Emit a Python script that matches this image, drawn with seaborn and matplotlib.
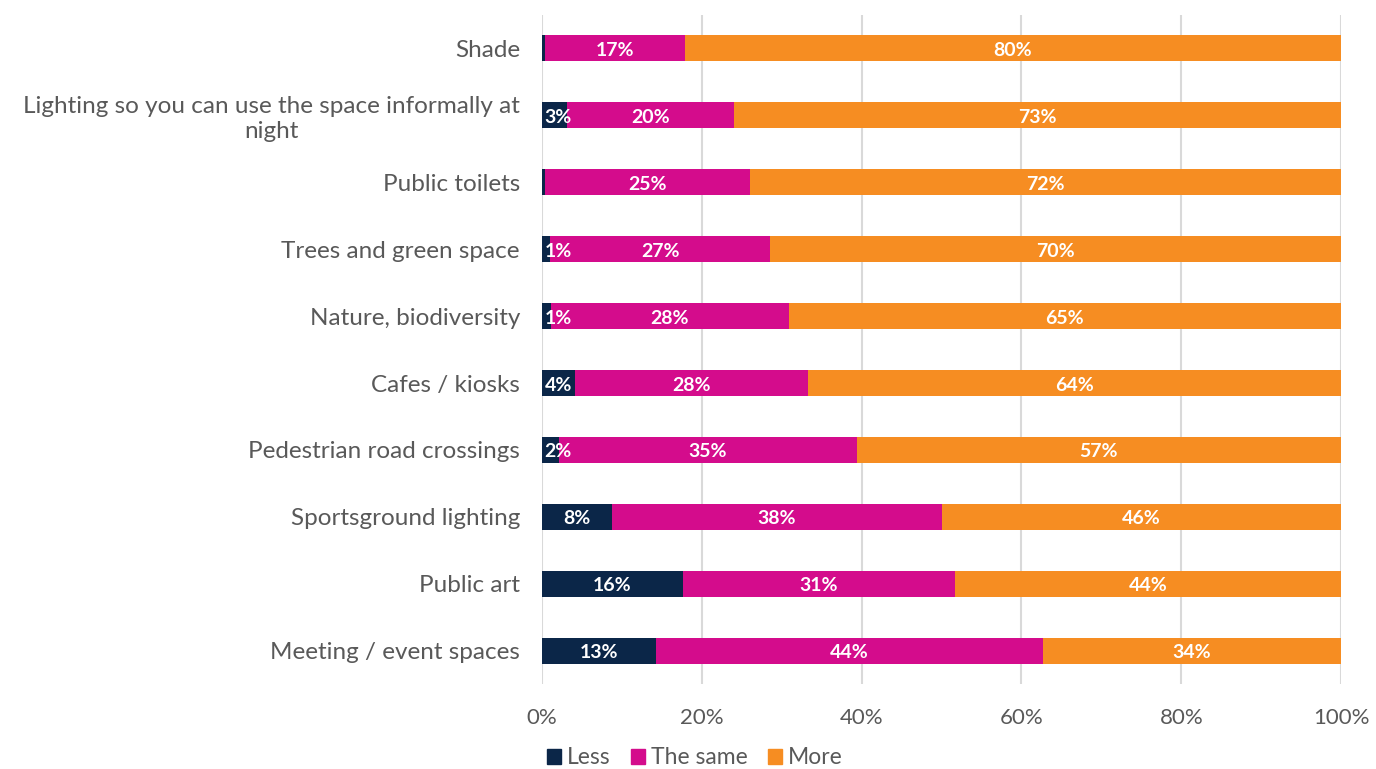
import matplotlib
matplotlib.use("Agg")
import matplotlib.pyplot as plt
import numpy as np
import pandas as pd
import seaborn as sns

# Survey responses: share wanting less / the same / more of each feature
categories = [
    "Shade",
    "Lighting so you can use the space informally at\nnight",
    "Public toilets",
    "Trees and green space",
    "Nature, biodiversity",
    "Cafes / kiosks",
    "Pedestrian road crossings",
    "Sportsground lighting",
    "Public art",
    "Meeting / event spaces",
]
less = [0.4, 3, 0.4, 1, 1, 4, 2, 8, 16, 13]
same = [17, 20, 25, 27, 28, 28, 35, 38, 31, 44]
more = [80, 73, 72, 70, 65, 64, 57, 46, 44, 34]
series_names = ["Less", "The same", "More"]
colors = ["#0B2648", "#D40C8C", "#F68D22"]
x_ticks = [0, 20, 40, 60, 80, 100]

sns.set_theme(style="white")
plt.rcParams["font.family"] = ["Lato", "DejaVu Sans"]

df = pd.DataFrame({"category": categories, "less": less, "same": same, "more": more})
total = df[["less", "same", "more"]].sum(axis=1)
# 100% stacked: normalise each row to its total
df["less_n"] = df["less"] / total * 100
df["same_n"] = df["same"] / total * 100
df["more_n"] = df["more"] / total * 100
df["cum_less"] = df["less_n"]
df["cum_same"] = df["less_n"] + df["same_n"]
df["cum_more"] = df["cum_same"] + df["more_n"]

fig = plt.figure(figsize=(13.76, 7.69), dpi=100)
ax = fig.add_axes([0.394, 0.110, 0.5806, 0.871])

# Draw cumulative layers from the longest to the shortest
for col, c in zip(["cum_more", "cum_same", "cum_less"], colors[::-1]):
    sns.barplot(data=df, x=col, y="category", orient="h", color=c,
                width=0.4, ax=ax, saturation=1, linewidth=0, zorder=3)

# Segment labels (kept inside the plot area when a segment is very thin)
min_center = 2.0
for i, row in df.iterrows():
    starts = [0, row["cum_less"], row["cum_same"]]
    widths = [row["less_n"], row["same_n"], row["more_n"]]
    raw = [row["less"], row["same"], row["more"]]
    for s, w, r in zip(starts, widths, raw):
        if r < 0.5:
            continue
        cx = max(s + w / 2, min_center)
        ax.text(cx, i + 0.03, f"{r:.0f}%", ha="center", va="center",
                color="white", fontsize=14, fontweight="bold", zorder=5)

ax.set_xlim(0, 100)
ax.set_ylim(len(categories) - 0.5, -0.5)
ax.set_xticks(x_ticks)
ax.set_xticklabels([f"{t}%" for t in x_ticks], fontsize=16, color="#595959")
ax.tick_params(axis="x", length=0, pad=17)
ax.tick_params(axis="y", length=0, pad=16, labelsize=17.5, labelcolor="#595959")
for lbl in ax.get_yticklabels():
    lbl.set_multialignment("center")
    lbl.set_linespacing(1.25)
ax.set_xlabel("")
ax.set_ylabel("")
ax.xaxis.grid(True, color="#D9D9D9", linewidth=1.5, zorder=0)
ax.set_axisbelow(True)
for sp in ax.spines.values():
    sp.set_visible(False)

handles = [plt.Rectangle((0, 0), 1, 1, color=c) for c in colors]
fig.legend(handles, series_names, loc="lower center", ncol=3,
           bbox_to_anchor=(0.505, -0.026), frameon=False, fontsize=16.5,
           handlelength=0.6, handleheight=0.6, handletextpad=0.25,
           columnspacing=0.9, labelcolor="#595959")

fig.savefig("out.png", dpi=100)
